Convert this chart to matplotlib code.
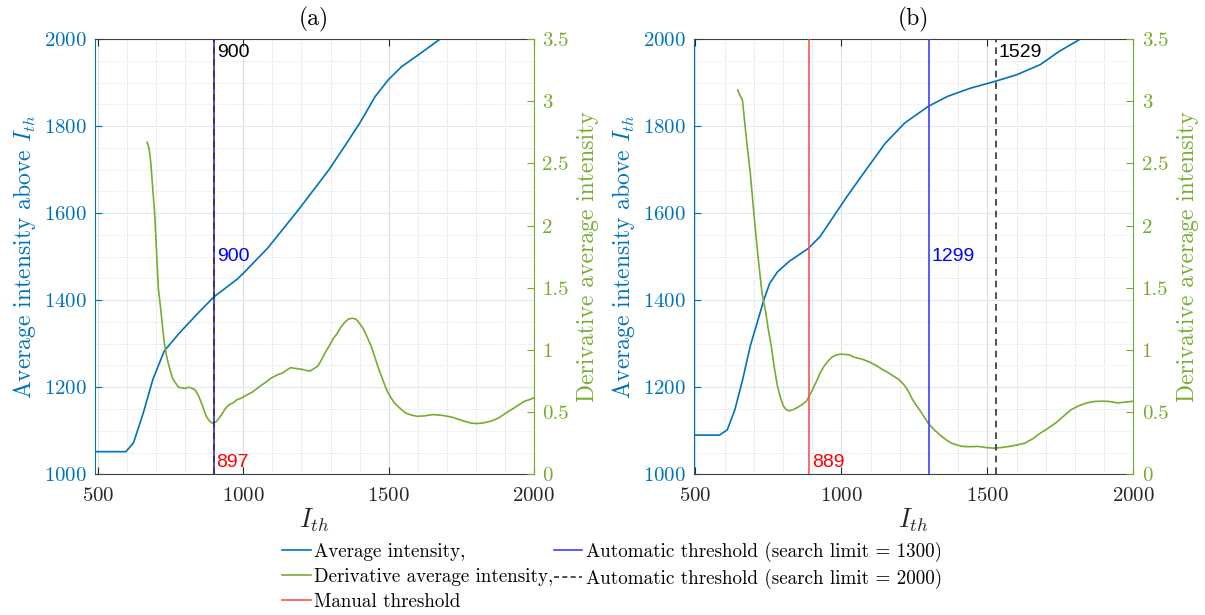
import matplotlib
matplotlib.use("Agg")
from matplotlib import pyplot as plt
from matplotlib.lines import Line2D
from matplotlib.transforms import blended_transform_factory
import numpy as np

# panel (a)
a_int_x = [488, 595, 621, 655, 688, 727, 780, 846, 899, 978, 1000, 1084, 1190, 1295, 1348,
           1401, 1454, 1500, 1546, 1612, 1678, 1750, 2000]
a_int_y = [1052, 1052, 1072, 1141, 1218, 1283, 1325, 1372, 1408, 1448, 1462, 1520, 1608, 1700, 1753,
           1807, 1868, 1907, 1937, 1968, 2000, 2035, 2150]
a_der_x = [668, 675, 681, 694, 707, 714, 727, 737, 747, 756, 766, 776, 786, 800, 810, 820, 833, 846,
           859, 872, 882, 892, 905, 915, 925, 938, 951, 965, 978, 991, 1004, 1030, 1057, 1077, 1097,
           1117, 1137, 1150, 1163, 1183, 1203, 1216, 1229, 1243, 1256, 1269, 1282, 1295, 1308, 1322,
           1335, 1348, 1361, 1375, 1388, 1401, 1414, 1427, 1440, 1453, 1467, 1480, 1493, 1507, 1520,
           1540, 1559, 1580, 1599, 1625, 1652, 1680, 1705, 1725, 1744, 1764, 1784, 1804, 1824, 1850,
           1877, 1903, 1930, 1950, 1969, 1985, 2000]
a_der_y = [2.67, 2.62, 2.5, 2.1, 1.49, 1.35, 1.06, 0.93, 0.84, 0.77, 0.735, 0.70, 0.695, 0.69, 0.70,
           0.695, 0.68, 0.628, 0.55, 0.466, 0.43, 0.412, 0.42, 0.45, 0.48, 0.53, 0.56, 0.575, 0.60,
           0.61, 0.628, 0.66, 0.708, 0.74, 0.776, 0.80, 0.817, 0.84, 0.857, 0.85, 0.843, 0.835, 0.83,
           0.85, 0.87, 0.92, 0.98, 1.03, 1.086, 1.13, 1.18, 1.22, 1.247, 1.255, 1.247, 1.21, 1.167,
           1.10, 1.03, 0.94, 0.84, 0.76, 0.68, 0.62, 0.574, 0.53, 0.493, 0.475, 0.466, 0.47, 0.48,
           0.475, 0.466, 0.455, 0.44, 0.425, 0.412, 0.408, 0.412, 0.425, 0.45, 0.49, 0.53, 0.56,
           0.588, 0.60, 0.614]
a_manual = 897
a_auto1300 = 900
a_auto2000 = 900

# panel (b)
b_int_x = [494, 582, 609, 635, 662, 688, 715, 734, 754, 781, 821, 887, 927, 966, 1019, 1085, 1151,
           1217, 1297, 1363, 1442, 1528, 1601, 1681, 1747, 1819, 2000]
b_int_y = [1090, 1090, 1102, 1148, 1218, 1295, 1356, 1400, 1438, 1465, 1489, 1519, 1546, 1585, 1638,
           1700, 1761, 1807, 1845, 1868, 1887, 1903, 1918, 1941, 1972, 2000, 2110]
b_der_x = [645, 652, 661, 675, 688, 701, 714, 728, 741, 750, 760, 770, 781, 791, 801, 811, 821, 835,
           848, 865, 881, 901, 915, 928, 941, 954, 967, 980, 993, 1007, 1027, 1046, 1072, 1099, 1119,
           1139, 1158, 1178, 1198, 1218, 1231, 1244, 1258, 1271, 1284, 1297, 1317, 1337, 1357, 1377,
           1397, 1416, 1442, 1469, 1495, 1522, 1548, 1575, 1601, 1628, 1655, 1681, 1708, 1734, 1760,
           1787, 1813, 1840, 1866, 1893, 1920, 1946, 1972, 2000]
b_der_y = [3.09, 3.05, 3.01, 2.69, 2.42, 2.08, 1.76, 1.46, 1.3, 1.16, 1.03, 0.86, 0.71, 0.62, 0.55,
           0.52, 0.51, 0.52, 0.535, 0.56, 0.59, 0.68, 0.75, 0.817, 0.87, 0.91, 0.94, 0.957, 0.965,
           0.965, 0.96, 0.94, 0.925, 0.9, 0.875, 0.845, 0.82, 0.79, 0.76, 0.71, 0.66, 0.60, 0.55,
           0.507, 0.46, 0.412, 0.36, 0.318, 0.28, 0.25, 0.235, 0.224, 0.222, 0.224, 0.215, 0.21,
           0.215, 0.224, 0.235, 0.25, 0.285, 0.33, 0.37, 0.412, 0.465, 0.52, 0.55, 0.574, 0.585,
           0.588, 0.585, 0.574, 0.58, 0.588]
b_manual = 889
b_auto1300 = 1299
b_auto2000 = 1529

left_ticks = [1000, 1200, 1400, 1600, 1800, 2000]
right_ticks = [0, 0.5, 1, 1.5, 2, 2.5, 3, 3.5]
right_labels = ['0', '0.5', '1', '1.5', '2', '2.5', '3', '3.5']
x_ticks = [500, 1000, 1500, 2000]
legend_labels = ['Average intensity,', 'Derivative average intensity,', 'Manual threshold',
                 'Automatic threshold (search limit = 1300)', 'Automatic threshold (search limit = 2000)']

plt.rcParams['font.family'] = 'serif'
plt.rcParams['font.serif'] = ['cmr10']
plt.rcParams['mathtext.fontset'] = 'cm'
plt.rcParams['axes.formatter.use_mathtext'] = True

BLUE = '#0072BD'
GREEN = '#77AC30'
RED = '#FF5050'
TBLUE = '#4040FF'
DARK = '#262626'


def draw_panel(fig, pos, title, int_x, int_y, der_x, der_y, manual, auto1300, auto2000, xmin):
    ax = fig.add_axes(pos)
    ax.set_xlim(xmin, 2000)
    ax.set_ylim(1000, 2000)
    ax.set_xticks(x_ticks)
    ax.set_yticks(left_ticks)
    ax.set_xticks(np.arange(600, 2000, 100), minor=True)
    ax.set_yticks(np.arange(1050, 2000, 50), minor=True)
    ax.xaxis.grid(True, which='major', color='#DEDEDE', lw=0.8)
    ax.yaxis.grid(True, which='major', color='#D9EAF5', lw=0.8)
    ax.xaxis.grid(True, which='minor', color='#D0D0D0', lw=0.7, ls=':')
    ax.yaxis.grid(True, which='minor', color='#CFE0EE', lw=0.7, ls=':')
    ax.set_axisbelow(True)
    ax.plot(int_x, int_y, color=BLUE, lw=1.2)
    ax.tick_params(axis='x', which='major', direction='in', length=5, top=True,
                   colors=DARK, labelsize=15, pad=9)
    ax.tick_params(axis='y', which='major', direction='in', length=5, colors=BLUE,
                   labelsize=15, pad=6)
    ax.tick_params(which='minor', length=0)
    ax.spines['left'].set_color(BLUE)
    ax.spines['top'].set_color('#404040')
    ax.spines['bottom'].set_color('#404040')
    ax.spines['right'].set_visible(False)
    ax.set_ylabel('Average intensity above $I_{th}$', color=BLUE, fontsize=17, labelpad=4)
    ax.set_xlabel('$I_{th}$', fontsize=19, color=DARK, labelpad=1)
    ax.set_title(title, fontsize=17, color='k', pad=10)

    ax2 = ax.twinx()
    ax2.set_ylim(0, 3.5)
    ax2.set_yticks(right_ticks)
    ax2.set_yticklabels(right_labels)
    ax2.plot(der_x, der_y, color=GREEN, lw=1.2)
    ax2.axvline(manual, color=RED, lw=1.2)
    ax2.axvline(auto1300, color=TBLUE, lw=1.2)
    ax2.axvline(auto2000, color='#333333', lw=1.2, ls=(0, (4, 3)))
    ax2.tick_params(axis='y', direction='in', length=5, colors=GREEN, labelsize=15, pad=6)
    for s in ['left', 'top', 'bottom']:
        ax2.spines[s].set_visible(False)
    ax2.spines['right'].set_color(GREEN)
    ax2.set_ylabel('Derivative average intensity', color=GREEN, fontsize=17, labelpad=6)

    tr = blended_transform_factory(ax2.transData, ax2.transAxes)
    txt = dict(family='Liberation Sans', fontsize=14, transform=tr, va='center', ha='left')
    ax2.text(auto2000 + 10, 0.97, str(auto2000), color='k', **txt)
    ax2.text(auto1300 + 10, 0.5, str(auto1300), color='#0000FF', **txt)
    ax2.text(manual + 10, 0.026, str(manual), color='#FF0000', **txt)
    return ax


fig = plt.figure(figsize=(12.05, 6.15), dpi=100)
draw_panel(fig, [0.0786, 0.2288, 0.3643, 0.7078], '(a)', a_int_x, a_int_y, a_der_x, a_der_y,
           a_manual, a_auto1300, a_auto2000, 487.6)
draw_panel(fig, [0.5759, 0.2288, 0.3646, 0.7078], '(b)', b_int_x, b_int_y, b_der_x, b_der_y,
           b_manual, b_auto1300, b_auto2000, 495)

handles = [Line2D([], [], color=BLUE, lw=1.2), Line2D([], [], color=GREEN, lw=1.2),
           Line2D([], [], color=RED, lw=1.2), Line2D([], [], color=TBLUE, lw=1.2),
           Line2D([], [], color='#333333', lw=1.2, ls=(0, (3, 2)))]
fig.legend(handles, legend_labels, ncol=2, frameon=False, fontsize=13.7,
           loc='upper left', bbox_to_anchor=(282 / 1205, 1 - 542 / 615), borderpad=0,
           borderaxespad=0, handlelength=1.5, handletextpad=0.2, columnspacing=0.0,
           labelspacing=0.36)

fig.savefig('out.png', dpi=100)
